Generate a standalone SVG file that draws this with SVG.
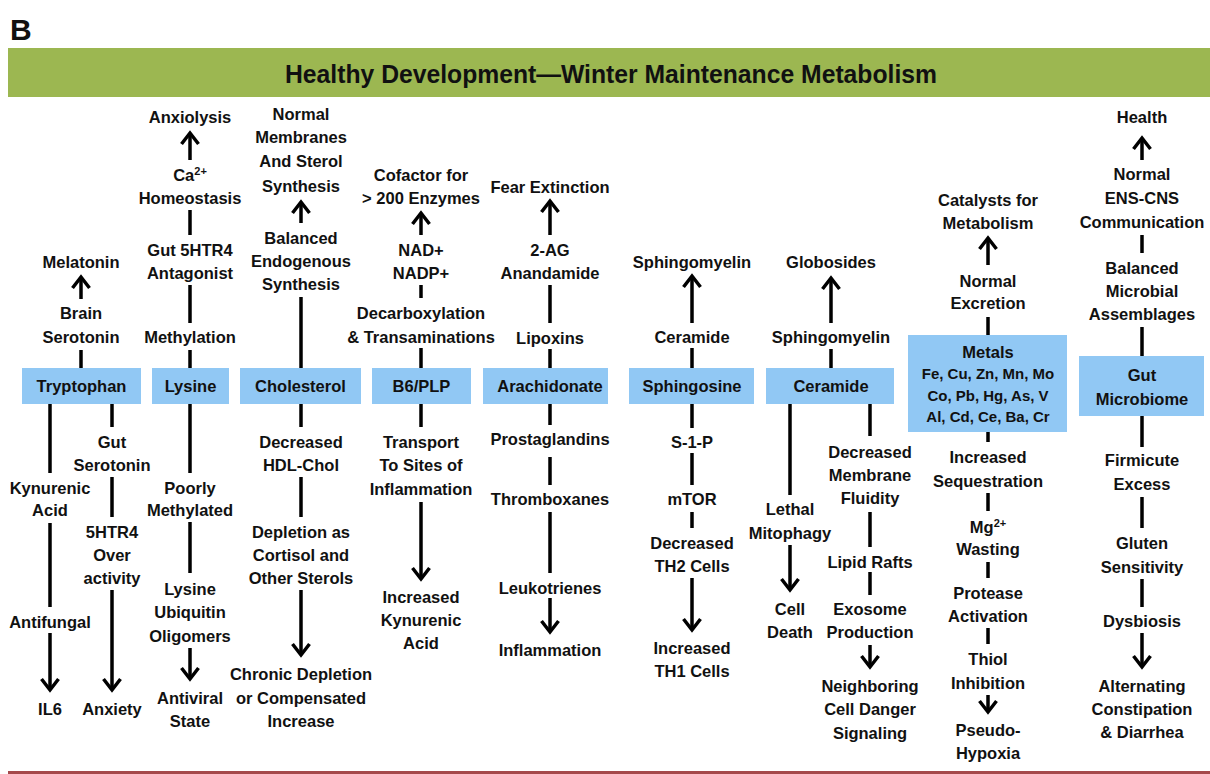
<svg xmlns="http://www.w3.org/2000/svg" width="1210" height="774" viewBox="0 0 1210 774">
<defs>
<style>
text{font-family:"Liberation Sans",Arial,sans-serif;font-weight:bold;fill:#111;text-anchor:middle;font-size:16.5px}
.sm{font-size:15px}
.box{fill:#91c8f4}
.c{stroke:#000;stroke-width:3.5;fill:none}
.a{stroke:#000;stroke-width:3.5;fill:none;marker-end:url(#ah)}
</style>
<marker id="ah" markerUnits="userSpaceOnUse" markerWidth="30" markerHeight="30" viewBox="-15 -15 30 30" refX="0" refY="0" orient="auto" overflow="visible">
<path d="M-11,-8.5 L0,0 L-11,8.5" fill="none" stroke="#000" stroke-width="3.5"/>
</marker>
</defs>
<rect width="1210" height="774" fill="#fff"/>
<text x="10" y="40" style="font-size:30px;text-anchor:start">B</text>
<g id="header">
<rect x="8" y="48" width="1202" height="49" fill="#9cb751"/>
<text x="611" y="83" style="font-size:25px" textLength="652" lengthAdjust="spacingAndGlyphs">Healthy Development—Winter Maintenance Metabolism</text>
</g>
<rect x="8" y="771" width="1202" height="3" fill="#a5494b"/>

<g id="connectors">
<line class="c" x1="81" y1="350" x2="81" y2="368"/>
<line class="a" x1="81" y1="299" x2="81" y2="277"/>
<line class="c" x1="50" y1="404" x2="50" y2="473"/>
<line class="c" x1="50" y1="523" x2="50" y2="607"/>
<line class="a" x1="50" y1="633" x2="50" y2="690"/>
<line class="c" x1="112" y1="404" x2="112" y2="427"/>
<line class="c" x1="112" y1="477" x2="112" y2="517"/>
<line class="a" x1="112" y1="590" x2="112" y2="690"/>

<line class="c" x1="190" y1="350" x2="190" y2="368"/>
<line class="c" x1="190" y1="285" x2="190" y2="323"/>
<line class="c" x1="190" y1="210" x2="190" y2="235"/>
<line class="a" x1="190" y1="160" x2="190" y2="133"/>
<line class="c" x1="190" y1="404" x2="190" y2="473"/>
<line class="c" x1="190" y1="522" x2="190" y2="573"/>
<line class="a" x1="190" y1="648" x2="190" y2="679"/>

<line class="c" x1="301" y1="297" x2="301" y2="368"/>
<line class="a" x1="301" y1="223" x2="301" y2="202"/>
<line class="c" x1="301" y1="404" x2="301" y2="427"/>
<line class="c" x1="301" y1="477" x2="301" y2="517"/>
<line class="a" x1="301" y1="590" x2="301" y2="655"/>

<line class="c" x1="421" y1="348" x2="421" y2="368"/>
<line class="c" x1="421" y1="285" x2="421" y2="298"/>
<line class="a" x1="421" y1="235" x2="421" y2="213"/>
<line class="c" x1="421" y1="404" x2="421" y2="427"/>
<line class="a" x1="421" y1="502" x2="421" y2="579"/>

<line class="c" x1="550" y1="349" x2="550" y2="368"/>
<line class="c" x1="550" y1="285" x2="550" y2="323"/>
<line class="a" x1="550" y1="235" x2="550" y2="201"/>
<line class="c" x1="550" y1="404" x2="550" y2="425"/>
<line class="c" x1="550" y1="457" x2="550" y2="485"/>
<line class="c" x1="550" y1="512" x2="550" y2="573"/>
<line class="a" x1="550" y1="598" x2="550" y2="632"/>

<line class="c" x1="692" y1="348" x2="692" y2="368"/>
<line class="a" x1="692" y1="323" x2="692" y2="276"/>
<line class="c" x1="692" y1="404" x2="692" y2="428"/>
<line class="c" x1="692" y1="453" x2="692" y2="485"/>
<line class="c" x1="692" y1="512" x2="692" y2="528"/>
<line class="a" x1="692" y1="578" x2="692" y2="630"/>

<line class="c" x1="831" y1="349" x2="831" y2="368"/>
<line class="a" x1="831" y1="323" x2="831" y2="278"/>
<line class="c" x1="790" y1="404" x2="790" y2="495"/>
<line class="a" x1="790" y1="545" x2="790" y2="590"/>
<line class="c" x1="870" y1="404" x2="870" y2="436"/>
<line class="c" x1="870" y1="512" x2="870" y2="547"/>
<line class="c" x1="870" y1="572" x2="870" y2="595"/>
<line class="a" x1="870" y1="645" x2="870" y2="667"/>

<line class="c" x1="988" y1="317" x2="988" y2="335"/>
<line class="a" x1="988" y1="265" x2="988" y2="238"/>
<line class="c" x1="988" y1="432" x2="988" y2="442"/>
<line class="c" x1="988" y1="493" x2="988" y2="511"/>
<line class="c" x1="988" y1="562" x2="988" y2="578"/>
<line class="c" x1="988" y1="628" x2="988" y2="644"/>
<line class="a" x1="988" y1="695" x2="988" y2="712"/>

<line class="c" x1="1142" y1="327" x2="1142" y2="356"/>
<line class="c" x1="1142" y1="235" x2="1142" y2="253"/>
<line class="a" x1="1142" y1="160" x2="1142" y2="138"/>
<line class="c" x1="1142" y1="416" x2="1142" y2="447"/>
<line class="c" x1="1142" y1="497" x2="1142" y2="528"/>
<line class="c" x1="1142" y1="579" x2="1142" y2="607"/>
<line class="a" x1="1142" y1="633" x2="1142" y2="667"/>
</g>

<g id="tryptophan">
<rect class="box" x="22" y="368" width="119" height="36"/>
<text x="81.5" y="392">Tryptophan</text>
</g>
<g id="tryptophan-labels">
<text x="81" y="268">Melatonin</text>
<text x="81" y="319">Brain</text>
<text x="81" y="343">Serotonin</text>
<text x="50" y="494">Kynurenic</text>
<text x="50" y="516">Acid</text>
<text x="50" y="628">Antifungal</text>
<text x="50" y="715">IL6</text>
<text x="112" y="448">Gut</text>
<text x="112" y="471">Serotonin</text>
<text x="112" y="538">5HTR4</text>
<text x="112" y="561">Over</text>
<text x="112" y="584">activity</text>
<text x="112" y="715">Anxiety</text>
</g>

<g id="lysine">
<rect class="box" x="152" y="368" width="77" height="36"/>
<text x="190.5" y="392">Lysine</text>
</g>
<g id="lysine-labels">
<text x="190" y="123">Anxiolysis</text>
<text x="190" y="181">Ca<tspan font-size="11" dy="-6">2+</tspan></text>
<text x="190" y="204">Homeostasis</text>
<text x="190" y="256">Gut 5HTR4</text>
<text x="190" y="279">Antagonist</text>
<text x="190" y="343">Methylation</text>
<text x="190" y="494">Poorly</text>
<text x="190" y="516">Methylated</text>
<text x="190" y="595">Lysine</text>
<text x="190" y="618">Ubiquitin</text>
<text x="190" y="642">Oligomers</text>
<text x="190" y="704">Antiviral</text>
<text x="190" y="727">State</text>
</g>

<g id="cholesterol">
<rect class="box" x="240" y="368" width="121" height="36"/>
<text x="300.5" y="392">Cholesterol</text>
</g>
<g id="cholesterol-labels">
<text x="301" y="120">Normal</text>
<text x="301" y="143">Membranes</text>
<text x="301" y="167">And Sterol</text>
<text x="301" y="192">Synthesis</text>
<text x="301" y="244">Balanced</text>
<text x="301" y="267">Endogenous</text>
<text x="301" y="290">Synthesis</text>
<text x="301" y="448">Decreased</text>
<text x="301" y="471">HDL-Chol</text>
<text x="301" y="538">Depletion as</text>
<text x="301" y="561">Cortisol and</text>
<text x="301" y="584">Other Sterols</text>
<text x="301" y="680">Chronic Depletion</text>
<text x="301" y="704">or Compensated</text>
<text x="301" y="727">Increase</text>
</g>

<g id="b6plp">
<rect class="box" x="372" y="368" width="99" height="36"/>
<text x="421.5" y="392">B6/PLP</text>
</g>
<g id="b6plp-labels">
<text x="421" y="181">Cofactor for</text>
<text x="421" y="204">&gt; 200 Enzymes</text>
<text x="421" y="256">NAD+</text>
<text x="421" y="279">NADP+</text>
<text x="421" y="319">Decarboxylation</text>
<text x="421" y="343">&amp; Transaminations</text>
<text x="421" y="448">Transport</text>
<text x="421" y="471">To Sites of</text>
<text x="421" y="495">Inflammation</text>
<text x="421" y="603">Increased</text>
<text x="421" y="626">Kynurenic</text>
<text x="421" y="649">Acid</text>
</g>

<g id="arachidonate">
<rect class="box" x="483" y="368" width="125" height="36"/>
<text x="550" y="392">Arachidonate</text>
</g>
<g id="arachidonate-labels">
<text x="550" y="193">Fear Extinction</text>
<text x="550" y="256">2-AG</text>
<text x="550" y="279">Anandamide</text>
<text x="550" y="344">Lipoxins</text>
<text x="550" y="445">Prostaglandins</text>
<text x="550" y="505">Thromboxanes</text>
<text x="550" y="594">Leukotrienes</text>
<text x="550" y="656">Inflammation</text>
</g>

<g id="sphingosine">
<rect class="box" x="629" y="368" width="125" height="36"/>
<text x="692" y="392">Sphingosine</text>
</g>
<g id="sphingosine-labels">
<text x="692" y="268">Sphingomyelin</text>
<text x="692" y="343">Ceramide</text>
<text x="692" y="448">S-1-P</text>
<text x="692" y="505">mTOR</text>
<text x="692" y="549">Decreased</text>
<text x="692" y="572">TH2 Cells</text>
<text x="692" y="654">Increased</text>
<text x="692" y="677">TH1 Cells</text>
</g>

<g id="ceramide">
<rect class="box" x="766" y="368" width="128" height="36"/>
<text x="831" y="392">Ceramide</text>
</g>
<g id="ceramide-labels">
<text x="831" y="268">Globosides</text>
<text x="831" y="343">Sphingomyelin</text>
<text x="790" y="515">Lethal</text>
<text x="790" y="539">Mitophagy</text>
<text x="790" y="615">Cell</text>
<text x="790" y="638">Death</text>
<text x="870" y="458">Decreased</text>
<text x="870" y="481">Membrane</text>
<text x="870" y="504">Fluidity</text>
<text x="870" y="568">Lipid Rafts</text>
<text x="870" y="615">Exosome</text>
<text x="870" y="638">Production</text>
<text x="870" y="692">Neighboring</text>
<text x="870" y="715">Cell Danger</text>
<text x="870" y="739">Signaling</text>
</g>

<g id="metals">
<rect class="box" x="908" y="335" width="159" height="97"/>
<text x="988" y="358">Metals</text>
<text class="sm" x="988" y="379">Fe, Cu, Zn, Mn, Mo</text>
<text class="sm" x="988" y="401">Co, Pb, Hg, As, V</text>
<text class="sm" x="988" y="422">Al, Cd, Ce, Ba, Cr</text>
</g>
<g id="metals-labels">
<text x="988" y="206">Catalysts for</text>
<text x="988" y="229">Metabolism</text>
<text x="988" y="287">Normal</text>
<text x="988" y="309">Excretion</text>
<text x="988" y="463">Increased</text>
<text x="988" y="487">Sequestration</text>
<text x="988" y="533">Mg<tspan font-size="11" dy="-6">2+</tspan></text>
<text x="988" y="555">Wasting</text>
<text x="988" y="599">Protease</text>
<text x="988" y="622">Activation</text>
<text x="988" y="665">Thiol</text>
<text x="988" y="689">Inhibition</text>
<text x="988" y="736">Pseudo-</text>
<text x="988" y="759">Hypoxia</text>
</g>

<g id="gut-microbiome">
<rect class="box" x="1079" y="356" width="125" height="60"/>
<text x="1142" y="381">Gut</text>
<text x="1142" y="405">Microbiome</text>
</g>
<g id="gut-labels">
<text x="1142" y="123">Health</text>
<text x="1142" y="180">Normal</text>
<text x="1142" y="204">ENS-CNS</text>
<text x="1142" y="228">Communication</text>
<text x="1142" y="274">Balanced</text>
<text x="1142" y="297">Microbial</text>
<text x="1142" y="320">Assemblages</text>
<text x="1142" y="466">Firmicute</text>
<text x="1142" y="490">Excess</text>
<text x="1142" y="549">Gluten</text>
<text x="1142" y="573">Sensitivity</text>
<text x="1142" y="627">Dysbiosis</text>
<text x="1142" y="692">Alternating</text>
<text x="1142" y="715">Constipation</text>
<text x="1142" y="738">&amp; Diarrhea</text>
</g>
</svg>
